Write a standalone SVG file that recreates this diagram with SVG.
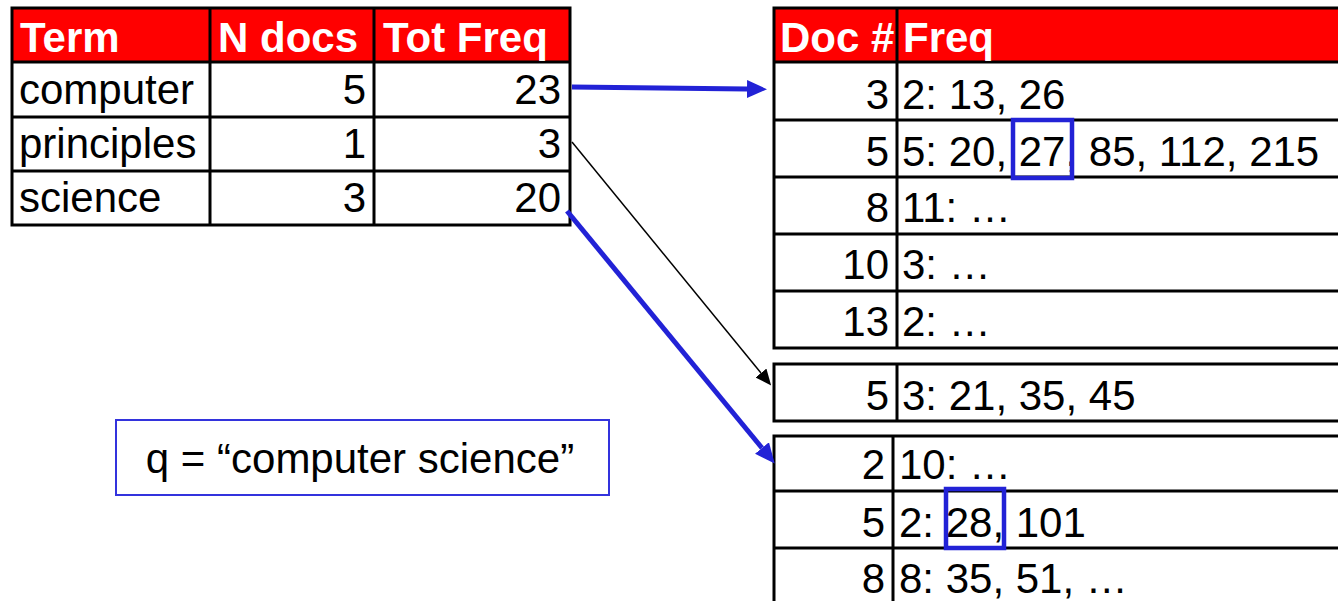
<svg xmlns="http://www.w3.org/2000/svg" width="1338" height="601" viewBox="0 0 1338 601">
<style>
  text { font-family: "Liberation Sans", Arial, sans-serif; font-size: 42px; fill: #000; }
  .hd { font-weight: bold; fill: #fff; }
  .num { text-anchor: end; }
  .hdr { fill: #ff0000; stroke: none; }
  .grid { stroke: #000; stroke-width: 3; fill: none; }
  .hl { fill: none; stroke: #2222d6; stroke-width: 4.5; }
  .blue { stroke: #2222d6; stroke-width: 5; fill: none; }
  .thin { stroke: #000; stroke-width: 1.5; fill: none; }
</style>
<defs>
  <marker id="ahBlue" markerUnits="userSpaceOnUse" markerWidth="20" markerHeight="20" viewBox="0 0 20 18" refX="0" refY="9" orient="auto">
    <path d="M0,0 L20,9 L0,18 Z" fill="#2222d6"/>
  </marker>
  <marker id="ahBlack" markerUnits="userSpaceOnUse" markerWidth="16" markerHeight="14" viewBox="0 0 16 14" refX="0" refY="7" orient="auto">
    <path d="M0,0 L16,7 L0,14 Z" fill="#000"/>
  </marker>
</defs>
<rect width="1338" height="601" fill="#fff"/>

<g id="term-table">
  <rect class="hdr" x="12" y="8" width="558" height="54"/>
  <rect class="grid" x="12" y="8" width="558" height="217"/>
  <path class="grid" d="M12,62 H570 M12,117 H570 M12,171 H570 M210,8 V225 M374,8 V225"/>
  <text class="hd" x="20" y="52">Term</text>
  <text class="hd" x="218" y="52">N docs</text>
  <text class="hd" x="383" y="52">Tot Freq</text>
  <text x="19" y="104">computer</text>
  <text class="num" x="366" y="104">5</text>
  <text class="num" x="561" y="104">23</text>
  <text x="19" y="158">principles</text>
  <text class="num" x="366" y="158">1</text>
  <text class="num" x="561" y="158">3</text>
  <text x="19" y="212">science</text>
  <text class="num" x="366" y="212">3</text>
  <text class="num" x="561" y="212">20</text>
</g>

<g id="postings-computer">
  <rect class="hdr" x="774" y="8" width="570" height="54"/>
  <path class="grid" d="M1345,8 H774 V348 H1345 M774,62 H1345 M774,120 H1345 M774,177 H1345 M774,234 H1345 M774,291 H1345 M897,8 V348"/>
  <text class="hd" x="780" y="52">Doc #</text>
  <text class="hd" x="903" y="52">Freq</text>
  <text class="num" x="889" y="109">3</text>
  <text x="902" y="109">2: 13, 26</text>
  <text class="num" x="889" y="166">5</text>
  <text x="902" y="166">5: 20, 27, 85, 112, 215</text>
  <text class="num" x="889" y="222">8</text>
  <text x="902" y="222">11: …</text>
  <text class="num" x="889" y="279">10</text>
  <text x="902" y="279">3: …</text>
  <text class="num" x="889" y="336">13</text>
  <text x="902" y="336">2: …</text>
  <rect class="hl" x="1013" y="120" width="59" height="58"/>
</g>

<g id="postings-principles">
  <path class="grid" d="M1345,364 H774 V421 H1345 M897,364 V421"/>
  <text class="num" x="889" y="410">5</text>
  <text x="902" y="410">3: 21, 35, 45</text>
</g>

<g id="postings-science">
  <path class="grid" d="M1345,436 H774 V610 M774,491 H1345 M774,548 H1345 M893,436 V610"/>
  <text class="num" x="885" y="479">2</text>
  <text x="899" y="479">10: …</text>
  <text class="num" x="885" y="537">5</text>
  <text x="899" y="537">2: 28, 101</text>
  <text class="num" x="885" y="593">8</text>
  <text x="899" y="593">8: 35, 51, …</text>
  <rect class="hl" x="946" y="489" width="58" height="59"/>
</g>

<g id="query">
  <rect x="116" y="420" width="493" height="75" fill="none" stroke="#3333dd" stroke-width="2"/>
  <text x="360" y="473" text-anchor="middle" font-size="45">q = “computer science”</text>
</g>

<g id="connectors">
  <line class="blue" x1="572" y1="87" x2="747" y2="89" marker-end="url(#ahBlue)"/>
  <line class="thin" x1="572" y1="142" x2="761" y2="373" marker-end="url(#ahBlack)"/>
  <line class="blue" x1="567" y1="211" x2="762" y2="448" marker-end="url(#ahBlue)"/>
</g>
</svg>
